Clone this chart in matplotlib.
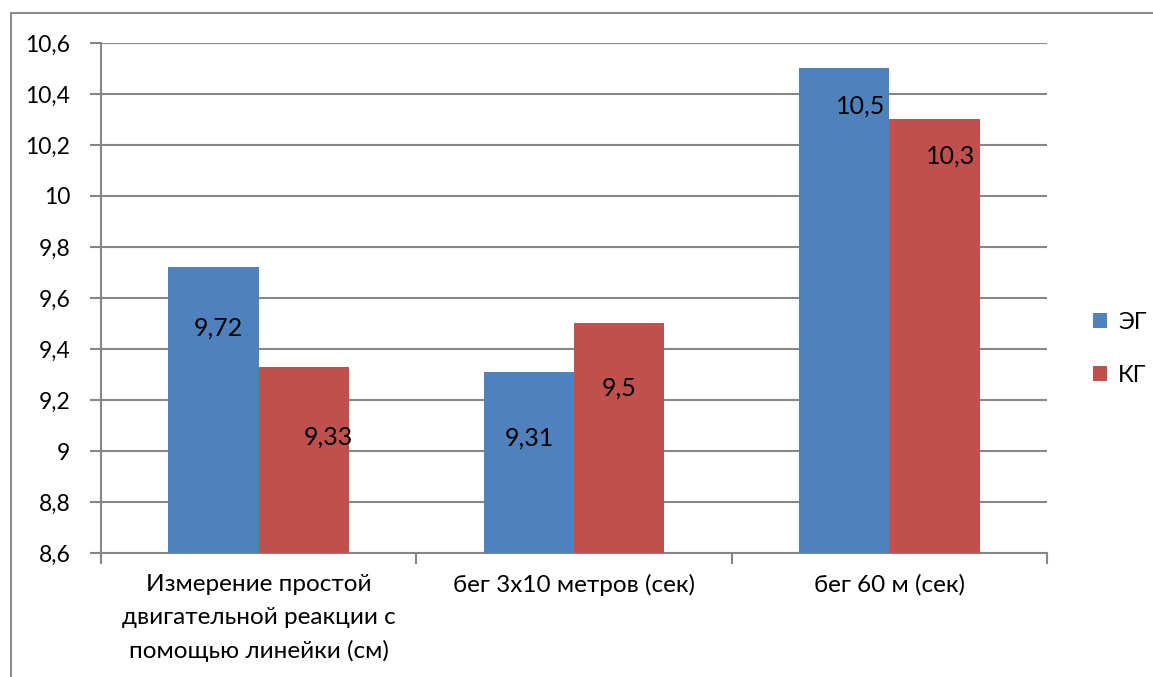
import numpy as np
import matplotlib.pyplot as plt
from matplotlib.patches import Rectangle

categories = ["Измерение простой\nдвигательной реакции с\nпомощью линейки (см)",
              "бег 3х10 метров (сек)",
              "бег 60 м (сек)"]
series_names = ["ЭГ", "КГ"]
eg_values = [9.72, 9.31, 10.5]
kg_values = [9.33, 9.5, 10.3]
y_ticks = [8.6, 8.8, 9.0, 9.2, 9.4, 9.6, 9.8, 10.0, 10.2, 10.4, 10.6]

plt.rcParams['font.family'] = ['Lato', 'DejaVu Sans']

blue = '#4F81BD'
red = '#C0504D'
grid_c = '#868686'

fig = plt.figure(figsize=(11.53, 6.77), dpi=100)
W, H = 1153, 677
ax = fig.add_axes([101 / W, 1 - 553 / H, (1047 - 101) / W, (553 - 43) / H])

# outer chart border (only top and left visible in the reference)
fig.patches.append(Rectangle((11 / W, -0.1), 1.2, 1 - 13 / H + 0.1,
                             transform=fig.transFigure, fill=False,
                             edgecolor='#8c8c8c', linewidth=1.5))

x = np.arange(len(categories))
bw = 0.286
ax.bar(x - bw / 2, np.array(eg_values) - 8.6, bw, bottom=8.6, color=blue, label=series_names[0], zorder=3)
ax.bar(x + bw / 2, np.array(kg_values) - 8.6, bw, bottom=8.6, color=red, label=series_names[1], zorder=3)

# data labels, Excel put them somewhere below the bar top (pixel offsets)
offs_eg = [(5, -61), (0, -66), (16, -38)]
offs_kg = [(25, -70), (0, -65), (16, -37)]
for i in range(len(categories)):
    for val, dx, off in [(eg_values[i], -bw / 2, offs_eg[i]), (kg_values[i], bw / 2, offs_kg[i])]:
        lab = ('%g' % val).replace('.', ',')
        ax.annotate(lab, (x[i] + dx, val), xytext=(off[0] * 0.72, off[1] * 0.72),
                    textcoords='offset points', ha='center', va='center',
                    fontsize=18, zorder=4)

ax.set_xlim(-0.5, len(categories) - 0.5)
ax.set_ylim(8.6, 10.6)
ax.set_yticks(y_ticks)
ax.set_yticklabels([('%g' % t).replace('.', ',') for t in y_ticks], fontsize=16.5)
ax.set_xticks(x)
ax.set_xticklabels(categories, fontsize=17.5, linespacing=1.7)
ax.set_xticks(np.arange(len(categories) + 1) - 0.5, minor=True)
ax.tick_params(axis='x', which='major', length=0, pad=15)
ax.tick_params(axis='x', which='minor', length=8, color=grid_c, width=1.5)
ax.tick_params(axis='y', length=8, color=grid_c, width=1.5, pad=14)
ax.grid(axis='y', color=grid_c, linewidth=1.5, zorder=0)
for s in ['top', 'right']:
    ax.spines[s].set_visible(False)
for s in ['left', 'bottom']:
    ax.spines[s].set_color(grid_c)
    ax.spines[s].set_linewidth(1.5)

ax.legend(loc='center left', bbox_to_anchor=(1072 / W, 1 - 349 / H), bbox_transform=fig.transFigure,
          frameon=False, fontsize=17, handlelength=0.6, handleheight=0.6,
          handletextpad=0.45, labelspacing=1.35)

fig.savefig('out.png', dpi=100)
